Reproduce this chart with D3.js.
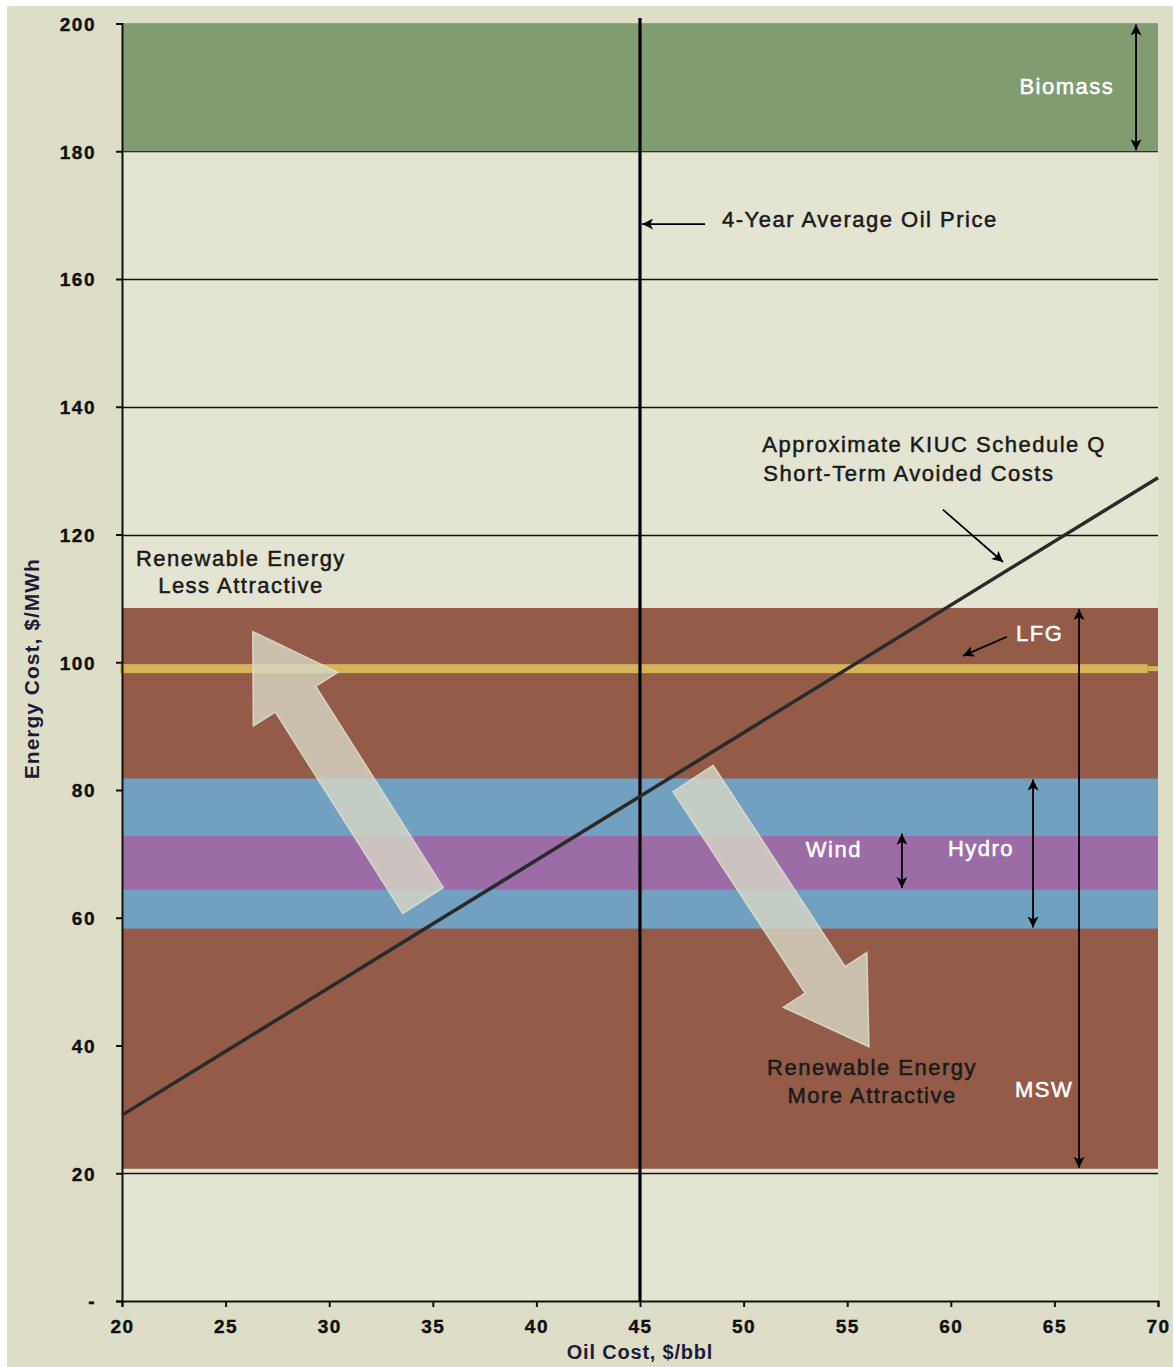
<!DOCTYPE html>
<html><head><meta charset="utf-8">
<script src="https://cdn.jsdelivr.net/npm/d3@7"></script>
<style>
html,body{margin:0;padding:0;background:#fff;}
svg{display:block;}
text{font-family:"Liberation Sans",Arial,sans-serif;}
</style></head>
<body>
<script>
// ---------- data ----------
const xTicks = [20,25,30,35,40,45,50,55,60,65,70];
const yTicks = [0,20,40,60,80,100,120,140,160,180,200];
const yTickLabels = ["-","20","40","60","80","100","120","140","160","180","200"];
const bandNames  = ["Biomass","MSW","Hydro","Wind","LFG"];
const bandLow    = [180, 20.7, 58.3, 64.4, 98.3];
const bandHigh   = [200, 108.5, 81.8, 72.8, 99.7];
const bandColors = ["#829c72","#935b48","#72a0c1","#9c6ca6","#d6b458"];
const avgOilPrice = 45;
const avoidedOil  = [20, 70];
const avoidedCost = [29.1, 128.9];
// range arrows (double headed): x position, top, bottom
const rangeNames = ["Biomass","MSW","Hydro","Wind"];
const rangeX     = [68.94, 66.19, 63.97, 57.64];
const rangeTop   = [200, 108.5, 81.8, 73.3];
const rangeBot   = [180, 20.7, 58.3, 64.5];
// big block arrows: tail -> tip
const blockTail = [[34.53,62.7],[47.56,81.8]];
const blockTip  = [[26.31,104.8],[56.05,39.8]];

// ---------- layout ----------
const W = 1173, H = 1367;
const svg = d3.select("body").append("svg").attr("width",W).attr("height",H);
const x = d3.scaleLinear().domain([20,70]).range([122,1158]);
const y = d3.scaleLinear().domain([0,200]).range([1301,23.5]);

svg.append("rect").attr("x",7).attr("y",6).attr("width",W-7).attr("height",H-6).attr("fill","#dedec8");
svg.append("rect").attr("x",x(20)).attr("y",y(200)).attr("width",x(70)-x(20)).attr("height",y(0)-y(200)).attr("fill","#e4e4d3");

// gridlines
svg.append("g").selectAll("line").data(yTicks.filter(d=>d>0)).join("line")
  .attr("x1",x(20)).attr("x2",x(70)).attr("y1",d=>Math.round(y(d))+0.5).attr("y2",d=>Math.round(y(d))+0.5)
  .attr("stroke","#111").attr("stroke-width",1.5);

// bands
svg.append("g").selectAll("rect").data(bandNames).join("rect")
  .attr("x",(d,i)=> i===4 ? x(20)-2 : x(20))
  .attr("width",(d,i)=> i===4 ? x(69.5)-x(20)+2 : x(70)-x(20))
  .attr("y",(d,i)=>y(bandHigh[i])).attr("height",(d,i)=>y(bandLow[i])-y(bandHigh[i]))
  .attr("fill",(d,i)=>bandColors[i]);
// thin LFG tail to edge
svg.append("rect").attr("x",x(69.5)).attr("width",x(70)-x(69.5))
  .attr("y",y(bandHigh[4])+2).attr("height",y(bandLow[4])-y(bandHigh[4])-4).attr("fill",bandColors[4]);

// axes
const yAxis = d3.axisLeft(y).tickValues(yTicks).tickFormat((d,i)=>yTickLabels[i]).tickSize(6).tickPadding(20);
const gy = svg.append("g").attr("transform",`translate(${x(20)},0)`).call(yAxis);
const xAxis = d3.axisBottom(x).tickValues(xTicks).tickSize(6).tickPadding(13);
const gx = svg.append("g").attr("transform",`translate(0,${y(0)})`).call(xAxis);
[gx,gy].forEach(g=>{
  g.select(".domain").attr("stroke","#111").attr("stroke-width",2);
  g.selectAll(".tick line").attr("stroke","#111").attr("stroke-width",2);
  g.selectAll(".tick text").attr("fill","#111").attr("font-family","'Liberation Sans',Arial,sans-serif")
    .attr("font-size",19).attr("font-weight","bold").attr("letter-spacing",1.5)
    .attr("stroke","#111").attr("stroke-width",0.4);
});
gy.selectAll(".tick text").attr("dy","0.36em");

// average oil price vertical line
svg.append("line").attr("x1",x(avgOilPrice)).attr("x2",x(avgOilPrice)).attr("y1",18).attr("y2",y(0))
  .attr("stroke","#000").attr("stroke-width",3.2);

// avoided cost line
svg.append("path").datum(avoidedOil.map((d,i)=>[d,avoidedCost[i]]))
  .attr("d",d3.line().x(d=>x(d[0])).y(d=>y(d[1])))
  .attr("stroke","#2a2a2a").attr("stroke-width",3.5).attr("fill","none");

// block arrows
function blockArrow(t0,t1){
  const x0=x(t0[0]),y0=y(t0[1]),x1=x(t1[0]),y1=y(t1[1]);
  const L=Math.hypot(x1-x0,y1-y0), ux=(x1-x0)/L, uy=(y1-y0)/L, px=-uy, py=ux;
  const sw=24, hw=50, hl=80;
  const bx=x1-ux*hl, by=y1-uy*hl;
  const pts=[[x0+px*sw,y0+py*sw],[bx+px*sw,by+py*sw],[bx+px*hw,by+py*hw],[x1,y1],
             [bx-px*hw,by-py*hw],[bx-px*sw,by-py*sw],[x0-px*sw,y0-py*sw]];
  return "M"+pts.map(p=>p.join(",")).join("L")+"Z";
}
svg.append("g").selectAll("path").data(blockTail).join("path")
  .attr("d",(d,i)=>blockArrow(d,blockTip[i]))
  .attr("fill","#d8d8c6").attr("fill-opacity",0.8).attr("stroke","#e2e2d2").attr("stroke-opacity",0.8).attr("stroke-width",1.5);

// arrow markers
const defs = svg.append("defs");
defs.append("marker").attr("id","ah").attr("viewBox","0 0 10 10").attr("refX",10).attr("refY",5)
  .attr("markerWidth",12).attr("markerHeight",11).attr("markerUnits","userSpaceOnUse").attr("orient","auto-start-reverse")
  .append("path").attr("d","M0,0L10,5L0,10L2.5,5Z").attr("fill","#000");

// range arrows
svg.append("g").selectAll("line").data(rangeNames).join("line")
  .attr("x1",(d,i)=>x(rangeX[i])).attr("x2",(d,i)=>x(rangeX[i]))
  .attr("y1",(d,i)=>y(rangeTop[i])+1).attr("y2",(d,i)=>y(rangeBot[i])-1)
  .attr("stroke","#000").attr("stroke-width",1.8)
  .attr("marker-start","url(#ah)").attr("marker-end","url(#ah)");

// pointer arrows
const pointers = [
  [[48.14,168.6],[45.1,168.6]],
  [[59.62,123.9],[62.52,115.7]],
  [[62.71,104.0],[60.59,101.0]]
];
svg.append("g").selectAll("line").data(pointers).join("line")
  .attr("x1",d=>x(d[0][0])).attr("y1",d=>y(d[0][1])).attr("x2",d=>x(d[1][0])).attr("y2",d=>y(d[1][1]))
  .attr("stroke","#000").attr("stroke-width",1.8).attr("marker-end","url(#ah)");

// text labels
const labels = [
  {t:"Biomass", ox:65.6, oy:189.0, a:"middle", c:"#fff"},
  {t:"4-Year Average Oil Price", ox:48.96, oy:168.2, a:"start", c:"#1a1a1a"},
  {t:"Approximate KIUC Schedule Q", ox:50.9, oy:132.9, a:"start", c:"#1a1a1a"},
  {t:"Short-Term Avoided Costs", ox:50.95, oy:128.3, a:"start", c:"#1a1a1a"},
  {t:"Renewable Energy", ox:25.74, oy:115.1, a:"middle", c:"#1a1a1a"},
  {t:"Less Attractive", ox:25.74, oy:110.8, a:"middle", c:"#1a1a1a"},
  {t:"LFG", ox:63.15, oy:103.3, a:"start", c:"#fff"},
  {t:"Wind", ox:53.0, oy:69.5, a:"start", c:"#fff"},
  {t:"Hydro", ox:59.86, oy:69.7, a:"start", c:"#fff"},
  {t:"Renewable Energy", ox:56.2, oy:35.4, a:"middle", c:"#1a1a1a"},
  {t:"More Attractive", ox:56.2, oy:31.0, a:"middle", c:"#1a1a1a"},
  {t:"MSW", ox:64.5, oy:32.0, a:"middle", c:"#fff"}
];
svg.append("g").selectAll("text").data(labels).join("text")
  .attr("x",d=>x(d.ox)).attr("y",d=>y(d.oy)).attr("text-anchor",d=>d.a)
  .attr("fill",d=>d.c).attr("font-size",22).attr("letter-spacing",1.5)
  .attr("stroke",d=>d.c).attr("stroke-width",0.5)
  .text(d=>d.t);

// axis titles
svg.append("text").attr("x",x(45)).attr("y",1359).attr("text-anchor","middle")
  .attr("font-size",20).attr("font-weight","bold").attr("letter-spacing",0.8).attr("fill","#1c1c3a").text("Oil Cost, $/bbl");
svg.append("text").attr("transform",`translate(39,${y(99)}) rotate(-90)`).attr("text-anchor","middle")
  .attr("font-size",21).attr("font-weight","bold").attr("letter-spacing",1).attr("fill","#1c1c3a").text("Energy Cost, $/MWh");
</script>
</body></html>
